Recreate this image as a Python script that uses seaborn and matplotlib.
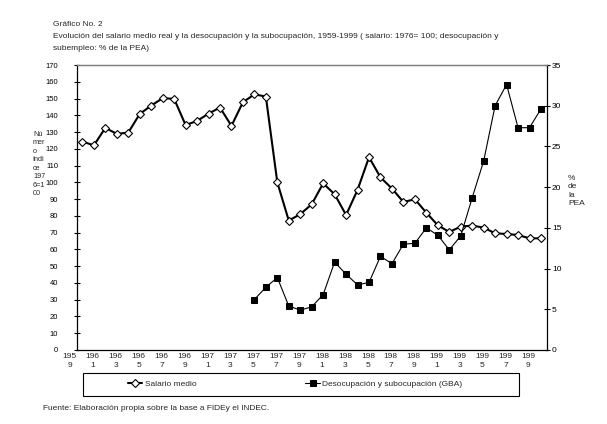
import numpy as np
import pandas as pd
import matplotlib
matplotlib.use("Agg")
import matplotlib.pyplot as plt
import matplotlib.transforms as mtransforms
from matplotlib.patches import Rectangle
import seaborn as sns

# salario medio real (1976=100), 1959-1999
years = list(range(1959, 2000))
salario = [124.3, 122.1, 132.5, 128.9, 129.7, 140.8, 145.8, 150.2, 149.8, 134.2,
           136.6, 141.0, 144.6, 133.7, 147.8, 152.5, 151.2, 100.0, 77.2, 81.0,
           86.9, 99.4, 92.9, 80.5, 95.5, 115.0, 103.0, 96.3, 88.3, 89.9,
           81.9, 74.4, 70.4, 73.6, 74.2, 73.0, 69.6, 69.2, 68.6, 66.6, 66.6]

# desocupacion y subocupacion GBA (% de la PEA), 1974-1999
desoc_years = list(range(1974, 2000))
desocupacion = [6.2, 7.7, 8.9, 5.4, 4.9, 5.3, 6.8, 10.8, 9.3, 8.0,
                8.3, 11.5, 10.6, 13.0, 13.1, 15.0, 14.1, 12.3, 14.0, 18.7,
                23.2, 30.0, 32.6, 27.3, 27.3, 29.6]

label_years = years[::2]
left_ticks = list(range(0, 171, 10))
right_ticks = list(range(0, 36, 5))

sns.set_style("white")
plt.rcParams['font.family'] = ['Liberation Sans', 'DejaVu Sans']
fs = 6.0

df_sal = pd.DataFrame({"year": years, "salario": salario})
df_des = pd.DataFrame({"year": desoc_years, "desoc": desocupacion})

fig = plt.figure(figsize=(6.07, 4.24), dpi=100)
ax = fig.add_axes([76.7 / 607, 1 - 350 / 424, 470 / 607, 285 / 424])
ax2 = ax.twinx()

sns.lineplot(data=df_sal, x="year", y="salario", ax=ax, color="black", lw=1.5,
             marker="D", markersize=3.8, markerfacecolor="white",
             markeredgecolor="black", markeredgewidth=0.8, label="Salario medio",
             legend=False)
sns.lineplot(data=df_des, x="year", y="desoc", ax=ax2, color="black", lw=0.8,
             marker="s", markersize=3.8, markerfacecolor="black",
             markeredgecolor="black", label="Desocupación y subocupación (GBA)",
             legend=False)

ax.set_xlim(1958.5, 1999.5)
ax.set_ylim(0, 170)
ax2.set_ylim(0, 35)
ax.set_xlabel("")
ax.set_ylabel("")
ax2.set_ylabel("")

ax.set_yticks(left_ticks)
ax.set_yticklabels([str(v) for v in left_ticks], fontsize=5.5)
ax2.set_yticks(right_ticks)
ax2.set_yticklabels([str(v) for v in right_ticks], fontsize=fs)
ax.set_xticks([y - 0.5 for y in range(1959, 2001)])
ax.set_xticklabels([])

ax.tick_params(axis="y", direction="inout", length=4.5, width=0.8, pad=11, colors="black")
ax.tick_params(axis="x", direction="inout", length=4.5, width=0.8, colors="black")
ax2.tick_params(axis="y", direction="inout", length=4.5, width=0.8, pad=1.5, colors="black")

for a in (ax, ax2):
    for s in ("left", "right", "bottom"):
        a.spines[s].set_color("black")
        a.spines[s].set_linewidth(0.9)
    a.spines["top"].set_color("#808080")
    a.spines["top"].set_linewidth(0.9)
ax.spines["right"].set_visible(False)
ax2.spines["left"].set_visible(False)
ax2.spines["bottom"].set_visible(False)

# x labels, wrapped like the original ("195" / "9")
trans = mtransforms.blended_transform_factory(ax.transData, ax.transAxes)
for yr in label_years:
    s = str(yr)
    ax.text(yr - 1.1, -0.012, s[:3] + "\n" + s[3], transform=trans, ha="center",
            va="top", fontsize=fs, linespacing=1.35, clip_on=False)

fig.text(33 / 607, 1 - 164 / 424, "Nú\nmer\no\níndi\nce\n197\n6=1\n00",
         ha="left", va="center", fontsize=5.2, linespacing=1.3)
fig.text(568 / 607, 1 - 191 / 424, "%\nde\nla\nPEA", ha="left", va="center",
         fontsize=fs, linespacing=1.3)

fig.text(53 / 607, 1 - 25 / 424, "Gráfico No. 2", ha="left", va="center", fontsize=fs)
fig.text(53 / 607, 1 - 37 / 424,
         "Evolución del salario medio real y la desocupación y la subocupación, 1959-1999 "
         "( salario: 1976= 100; desocupación y", ha="left", va="center", fontsize=fs)
fig.text(53 / 607, 1 - 48.5 / 424, "subempleo: % de la PEA)", ha="left", va="center",
         fontsize=fs)

h1, l1 = ax.get_legend_handles_labels()
h2, l2 = ax2.get_legend_handles_labels()
fig.legend(h1 + h2, l1 + l2, loc="center left", bbox_to_anchor=(128 / 607, 1 - 384.5 / 424),
           ncol=2, frameon=False, fontsize=fs, handlelength=1.7, handletextpad=0.3,
           columnspacing=13.1, borderpad=0, borderaxespad=0)
fig.patches.append(Rectangle((82.7 / 607, 1 - 396 / 424), (519.3 - 82.7) / 607, 23 / 424,
                             transform=fig.transFigure, fill=False, edgecolor="black",
                             lw=0.8))

fig.text(43 / 607, 1 - 409 / 424,
         "Fuente: Elaboración propia sobre la base a FIDEy el INDEC.",
         ha="left", va="center", fontsize=fs)

fig.savefig("out.png", dpi=100)
